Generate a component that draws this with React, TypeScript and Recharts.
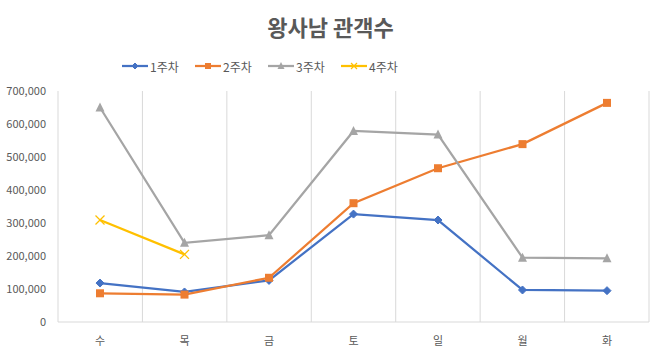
import React from "react";
import { LineChart, Line, XAxis, YAxis, CartesianGrid } from "recharts";

const days = ["수", "목", "금", "토", "일", "월", "화"];
const week1 = [118000, 91000, 126000, 327000, 309000, 97000, 95000];
const week2 = [87000, 83000, 134000, 360000, 466000, 539000, 664000];
const week3 = [650000, 240000, 263000, 579000, 568000, 195000, 193000];
const week4 = [309000, 205000, null, null, null, null, null];
const yTicks = [0, 100000, 200000, 300000, 400000, 500000, 600000, 700000];

const FONT = "'Noto Sans CJK KR', 'Noto Sans', sans-serif";
const TEXT = "#595959";

const series = [
  { key: "w1", name: "1주차", color: "#4472C4", shape: "diamond", values: week1 },
  { key: "w2", name: "2주차", color: "#ED7D31", shape: "square", values: week2 },
  { key: "w3", name: "3주차", color: "#A5A5A5", shape: "triangle", values: week3 },
  { key: "w4", name: "4주차", color: "#FFC000", shape: "cross", values: week4 },
];

const data = days.map((day, i) => {
  const row: any = { day };
  series.forEach((s) => (row[s.key] = s.values[i]));
  return row;
});

function Marker({ shape, cx, cy, color, r }: any) {
  if (shape === "diamond") {
    return (
      <path
        d={`M${cx},${cy - r} L${cx + r},${cy} L${cx},${cy + r} L${cx - r},${cy} Z`}
        fill={color}
        stroke={color}
      />
    );
  }
  if (shape === "square") {
    return <rect x={cx - r} y={cy - r} width={r * 2} height={r * 2} fill={color} />;
  }
  if (shape === "triangle") {
    return (
      <path
        d={`M${cx},${cy - r - 1} L${cx + r + 0.5},${cy + r} L${cx - r - 0.5},${cy + r} Z`}
        fill={color}
      />
    );
  }
  return (
    <g stroke={color} strokeWidth={1.3}>
      <line x1={cx - r} y1={cy - r} x2={cx + r} y2={cy + r} />
      <line x1={cx - r} y1={cy + r} x2={cx + r} y2={cy - r} />
    </g>
  );
}

function makeDot(s: any) {
  return (props: any) => {
    const { cx, cy, index, value } = props;
    if (cy == null || value == null || isNaN(cy)) return <g key={`${s.key}-${index}`} />;
    return (
      <g key={`${s.key}-${index}`}>
        <Marker shape={s.shape} cx={cx} cy={cy} color={s.color} r={s.shape === "cross" ? 4.5 : 4} />
      </g>
    );
  };
}

function LegendBar() {
  return (
    <div
      style={{
        position: "absolute",
        left: 122,
        top: 56,
        display: "flex",
        fontFamily: FONT,
        fontSize: 12,
        color: TEXT,
        whiteSpace: "nowrap",
      }}
    >
      {series.map((s) => (
        <div key={s.key} style={{ display: "flex", alignItems: "center", width: 73, height: 20 }}>
          <svg width={27} height={12}>
            <line x1={0} y1={6} x2={26} y2={6} stroke={s.color} strokeWidth={2.25} />
            <Marker shape={s.shape} cx={13} cy={6} color={s.color} r={3} />
          </svg>
          <span style={{ marginLeft: 1 }}>{s.name}</span>
        </div>
      ))}
    </div>
  );
}

export default function App() {
  return (
    <div style={{ position: "absolute", left: 0, top: 0, width: 661, height: 354, background: "#fff" }}>
      <div
        style={{
          position: "absolute",
          left: 0,
          width: 661,
          top: 10,
          textAlign: "center",
          fontFamily: FONT,
          fontWeight: 700,
          fontSize: 22,
          color: TEXT,
        }}
      >
        왕사남 관객수
      </div>
      <LegendBar />
      <LineChart
        width={661}
        height={354}
        data={data}
        margin={{ top: 91, right: 12, bottom: 2, left: 8 }}
        style={{ fontFamily: FONT }}
      >
        <CartesianGrid
          horizontal={false}
          stroke="#d9d9d9"
          verticalCoordinatesGenerator={({ offset }: any) =>
            Array.from({ length: days.length + 1 }, (_, i) => offset.left + (i * offset.width) / days.length)
          }
        />
        <XAxis
          dataKey="day"
          interval={0}
          padding={{ left: 42, right: 42 }}
          tickLine={false}
          axisLine={{ stroke: "#d9d9d9" }}
          tick={{ fill: TEXT, fontSize: 11 }}
          tickMargin={9}
          height={30}
        />
        <YAxis
          domain={[0, 700000]}
          ticks={yTicks}
          tickFormatter={(v: number) => v.toLocaleString("en-US")}
          axisLine={false}
          tickLine={false}
          tick={{ fill: TEXT, fontSize: 11 }}
          tickMargin={6}
          width={50}
        />
        {series.map((s) => (
          <Line
            key={s.key}
            type="linear"
            dataKey={s.key}
            name={s.name}
            stroke={s.color}
            strokeWidth={2.25}
            dot={makeDot(s)}
            activeDot={false}
            isAnimationActive={false}
          />
        ))}
      </LineChart>
    </div>
  );
}
